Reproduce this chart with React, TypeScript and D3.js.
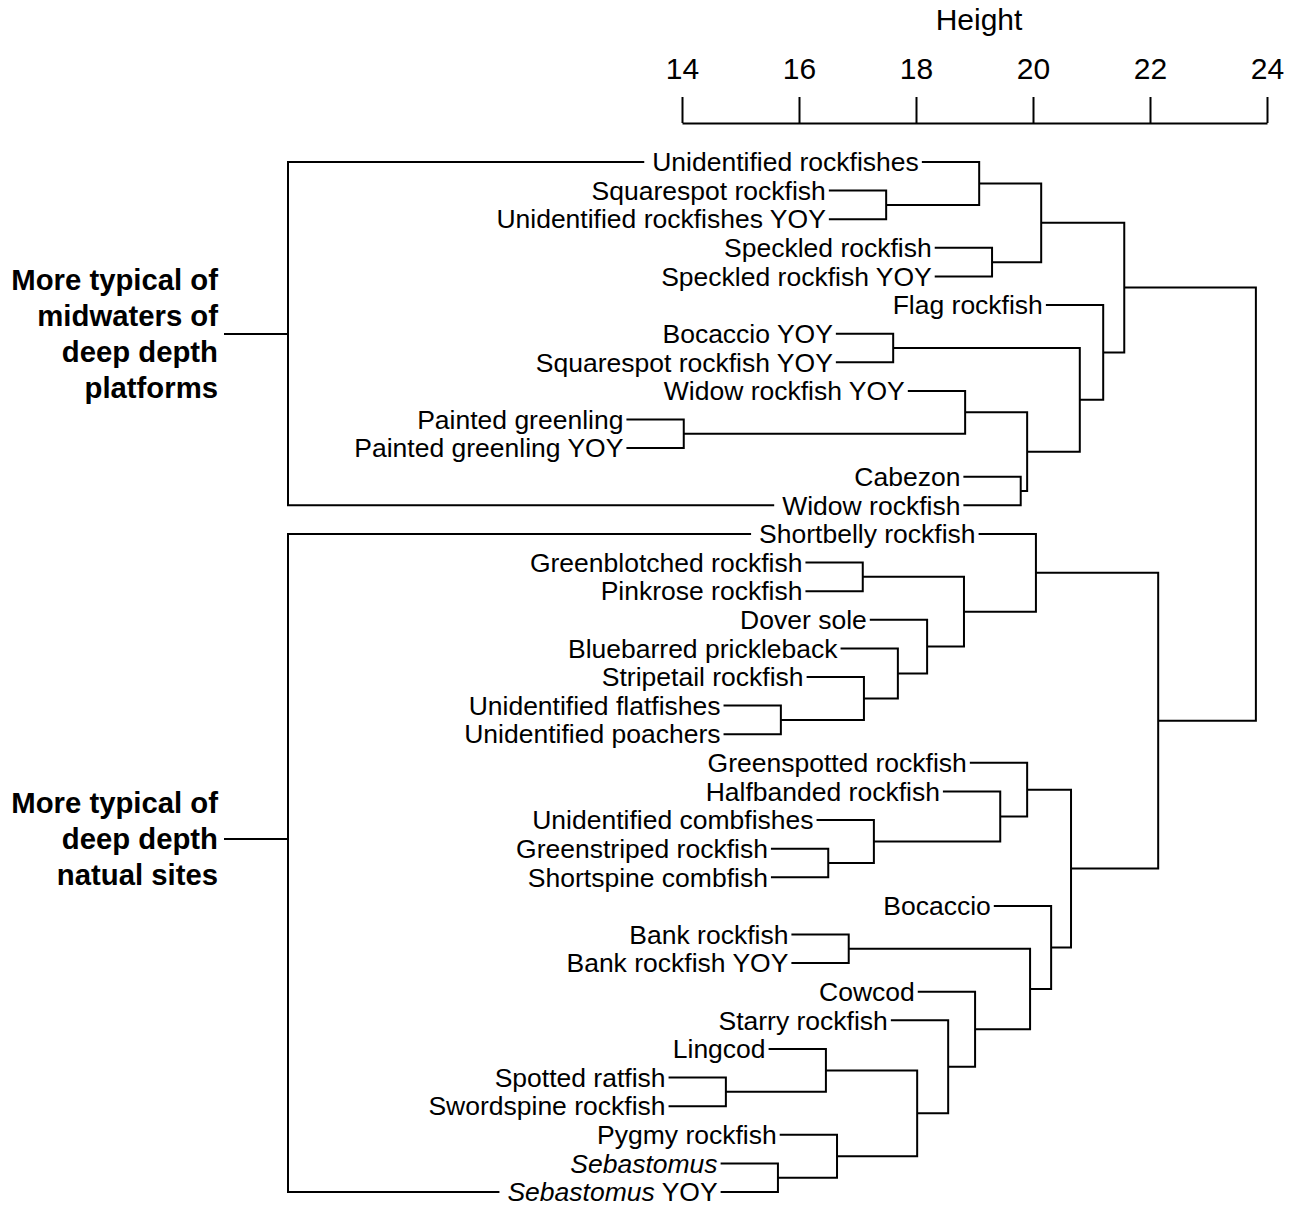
import React, { useEffect, useRef } from 'react';
import * as d3 from 'd3';

// Leaf labels, top to bottom
const leafLabels: string[] = [
  'Unidentified rockfishes',
  'Squarespot rockfish',
  'Unidentified rockfishes YOY',
  'Speckled rockfish',
  'Speckled rockfish YOY',
  'Flag rockfish',
  'Bocaccio YOY',
  'Squarespot rockfish YOY',
  'Widow rockfish YOY',
  'Painted greenling',
  'Painted greenling YOY',
  'Cabezon',
  'Widow rockfish',
  'Shortbelly rockfish',
  'Greenblotched rockfish',
  'Pinkrose rockfish',
  'Dover sole',
  'Bluebarred prickleback',
  'Stripetail rockfish',
  'Unidentified flatfishes',
  'Unidentified poachers',
  'Greenspotted rockfish',
  'Halfbanded rockfish',
  'Unidentified combfishes',
  'Greenstriped rockfish',
  'Shortspine combfish',
  'Bocaccio',
  'Bank rockfish',
  'Bank rockfish YOY',
  'Cowcod',
  'Starry rockfish',
  'Lingcod',
  'Spotted ratfish',
  'Swordspine rockfish',
  'Pygmy rockfish',
  'Sebastomus',
  'Sebastomus YOY',
];

// hclust-style merge table: negative = leaf (1-based), positive = earlier merge row (1-based); then height
const merges: [number, number, number][] = [
  [-10, -11, 14.03],
  [-33, -34, 14.75],
  [-36, -37, 15.64],
  [-20, -21, 15.69],
  [-32, 2, 16.46],
  [-25, -26, 16.5],
  [-35, 3, 16.65],
  [-28, -29, 16.85],
  [-15, -16, 17.09],
  [-19, 4, 17.11],
  [-24, 6, 17.28],
  [-2, -3, 17.49],
  [-7, -8, 17.61],
  [-18, 10, 17.69],
  [5, 7, 18.02],
  [-17, 14, 18.19],
  [-31, 15, 18.55],
  [9, 16, 18.82],
  [-9, 1, 18.84],
  [-30, 17, 19.01],
  [-1, 12, 19.08],
  [-4, -5, 19.3],
  [-23, 11, 19.44],
  [-12, -13, 19.79],
  [19, 24, 19.9],
  [-22, 23, 19.9],
  [8, 20, 19.95],
  [-14, 18, 20.05],
  [21, 22, 20.14],
  [-27, 27, 20.31],
  [26, 30, 20.65],
  [13, 25, 20.8],
  [-6, 32, 21.2],
  [29, 33, 21.56],
  [28, 31, 22.14],
  [34, 35, 23.81],
];

const heightTicks: number[] = [14, 16, 18, 20, 22, 24];
const hang = 0.98;

const groupLabelLines: string[][] = [
  ['More typical of', 'midwaters of', 'deep depth', 'platforms'],
  ['More typical of', 'deep depth', 'natual sites'],
];
const groupFirstLeaf: number[] = [0, 13];
const groupLastLeaf: number[] = [12, 36];

const FONT = '"Liberation Sans", Arial, Helvetica, sans-serif';

export default function App() {
  const ref = useRef<SVGSVGElement>(null);

  useEffect(() => {
    const svg = d3.select(ref.current);
    svg.selectAll('*').remove();

    const x = d3.scaleLinear().domain([14, 24]).range([682, 1267]);
    const y = d3
      .scalePoint<number>()
      .domain(d3.range(leafLabels.length))
      .range([162, 1192]);

    // Axis
    const axisY = 123;
    const axis = d3
      .axisTop(x)
      .tickValues(heightTicks)
      .tickSizeInner(26)
      .tickSizeOuter(0)
      .tickPadding(18)
      .tickFormat(d3.format('d') as any);
    const ag = svg
      .append('g')
      .attr('transform', `translate(0,${axisY})`)
      .call(axis as any);
    ag.selectAll('path, line').attr('stroke', '#000').attr('stroke-width', 2);
    ag.selectAll('text')
      .attr('font-size', 30)
      .attr('font-family', FONT)
      .attr('fill', '#000');
    ag.attr('font-family', FONT);

    svg
      .append('text')
      .attr('x', 979)
      .attr('y', 30)
      .attr('text-anchor', 'middle')
      .attr('font-size', 30)
      .attr('font-family', FONT)
      .text('Height');

    // Dendrogram
    const nodes: { y: number; h: number }[] = [];
    const leafX: number[] = new Array(leafLabels.length).fill(0);
    const dg = svg.append('g');

    merges.forEach(([a, b, h]) => {
      const pos = (c: number) => {
        if (c < 0) {
          const li = -c - 1;
          const lx = x(h - hang);
          leafX[li] = lx;
          return { x: lx, y: y(li) as number };
        }
        const n = nodes[c - 1];
        return { x: x(n.h), y: n.y };
      };
      const pa = pos(a);
      const pb = pos(b);
      const p = d3.path();
      p.moveTo(pa.x, pa.y);
      p.lineTo(x(h), pa.y);
      p.lineTo(x(h), pb.y);
      p.lineTo(pb.x, pb.y);
      dg.append('path')
        .attr('d', p.toString())
        .attr('fill', 'none')
        .attr('stroke', '#000')
        .attr('stroke-width', 2);
      nodes.push({ y: (pa.y + pb.y) / 2, h });
    });

    // Leaf labels
    const gap = 3;
    const labelStart: number[] = [];
    leafLabels.forEach((lab, i) => {
      const t = dg
        .append('text')
        .attr('x', leafX[i] - gap)
        .attr('y', y(i) as number)
        .attr('dy', '0.35em')
        .attr('text-anchor', 'end')
        .attr('font-size', 26.5)
        .attr('font-family', FONT)
        .attr('fill', '#000');
      if (lab.startsWith('Sebastomus')) {
        t.append('tspan').attr('font-style', 'italic').text('Sebastomus');
        const rest = lab.slice('Sebastomus'.length);
        if (rest) t.append('tspan').text(rest);
      } else {
        t.text(lab);
      }
      const w = (t.node() as SVGTextElement).getComputedTextLength();
      labelStart[i] = leafX[i] - gap - w;
    });

    // Group brackets and labels
    const bracketX = 288;
    const labelRight = 218;
    const lineH = 36;
    groupLabelLines.forEach((lines, gi) => {
      const y0 = y(groupFirstLeaf[gi]) as number;
      const y1 = y(groupLastLeaf[gi]) as number;
      const p = d3.path();
      p.moveTo(labelStart[groupFirstLeaf[gi]] - 8, y0);
      p.lineTo(bracketX, y0);
      p.lineTo(bracketX, y1);
      p.lineTo(labelStart[groupLastLeaf[gi]] - 8, y1);
      svg
        .append('path')
        .attr('d', p.toString())
        .attr('fill', 'none')
        .attr('stroke', '#000')
        .attr('stroke-width', 2);

      const cy = gi === 0 ? 334 : 839;
      svg
        .append('line')
        .attr('x1', labelRight + 6)
        .attr('x2', bracketX)
        .attr('y1', cy)
        .attr('y2', cy)
        .attr('stroke', '#000')
        .attr('stroke-width', 2);
      const n = lines.length;
      lines.forEach((ln, k) => {
        svg
          .append('text')
          .attr('x', labelRight)
          .attr('y', cy + (k - (n - 1) / 2) * lineH)
          .attr('dy', '0.35em')
          .attr('text-anchor', 'end')
          .attr('font-size', 29.3)
          .attr('font-weight', 'bold')
          .attr('font-family', FONT)
          .attr('fill', '#000')
          .text(ln);
      });
    });
  }, []);

  return (
    <svg
      ref={ref}
      width={1301}
      height={1207}
      style={{ position: 'absolute', left: 0, top: 0, background: '#fff' }}
    />
  );
}
